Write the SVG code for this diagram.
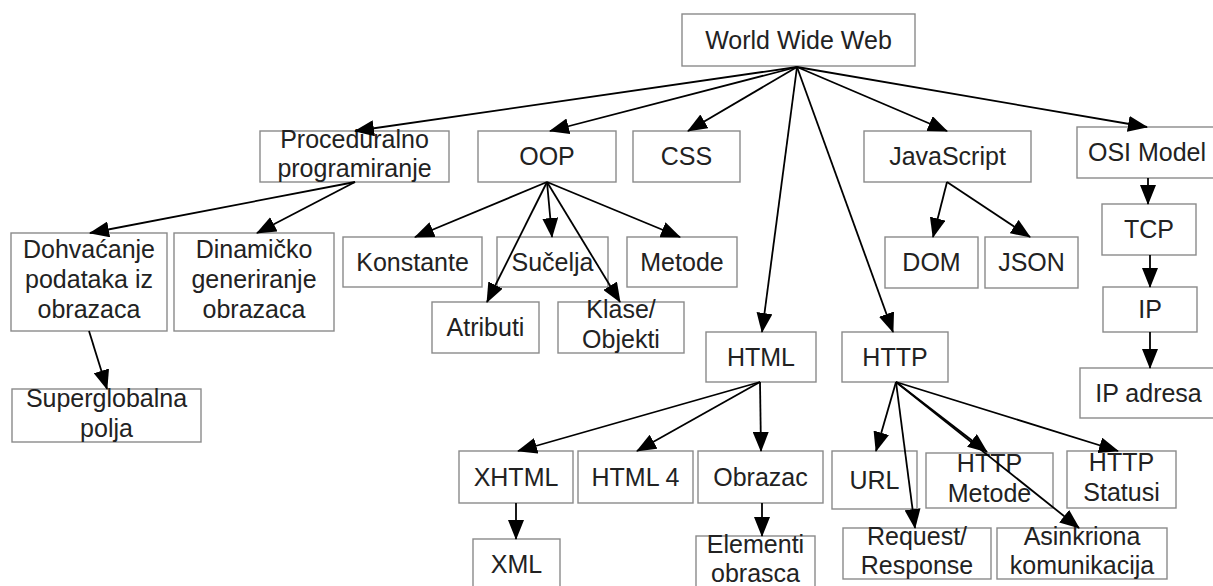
<svg xmlns="http://www.w3.org/2000/svg" width="1213" height="586" viewBox="0 0 1213 586">
<defs>
<style>
.n rect{fill:#fff;stroke:#8a8a8a;stroke-width:1.4}
.n text{font-family:"Liberation Sans",Arial,sans-serif;font-size:25px;fill:#222;text-anchor:middle}
.c line{stroke:#000;stroke-width:1.8;marker-end:url(#ah)}
</style>
<marker id="ah" markerUnits="userSpaceOnUse" viewBox="0 0 20 16" markerWidth="20" markerHeight="16" refX="19" refY="8" orient="auto"><path d="M0,0 L20,8 L0,16 z" fill="#000"/></marker>
</defs>
<rect width="1213" height="586" fill="#fff"/>
<g class="n">
<g id="www"><rect x="682" y="14" width="233" height="52"/><text x="798.5" y="49">World Wide Web</text></g>
<g id="proc"><rect x="260" y="131" width="189" height="51"/><text x="354.5" y="148">Proceduralno<tspan x="354.5" dy="29">programiranje</tspan></text></g>
<g id="oop"><rect x="478" y="131" width="138" height="51"/><text x="547" y="165">OOP</text></g>
<g id="css"><rect x="633" y="131" width="107" height="51"/><text x="686.5" y="165">CSS</text></g>
<g id="js"><rect x="864" y="131" width="167" height="51"/><text x="947.5" y="165">JavaScript</text></g>
<g id="osi"><rect x="1077" y="127" width="140" height="51"/><text x="1147" y="161">OSI Model</text></g>
<g id="dohv"><rect x="11" y="233" width="156" height="98"/><text x="89" y="258">Dohvaćanje<tspan x="89" dy="30">podataka iz</tspan><tspan x="89" dy="30">obrazaca</tspan></text></g>
<g id="dina"><rect x="174" y="233" width="160" height="98"/><text x="254" y="258">Dinamičko<tspan x="254" dy="30">generiranje</tspan><tspan x="254" dy="30">obrazaca</tspan></text></g>
<g id="konst"><rect x="343" y="237" width="139" height="50"/><text x="412.5" y="271">Konstante</text></g>
<g id="sucelja"><rect x="497" y="237" width="111" height="50"/><text x="552.5" y="271">Sučelja</text></g>
<g id="metode"><rect x="627" y="237" width="110" height="50"/><text x="682" y="271">Metode</text></g>
<g id="atrib"><rect x="432" y="302" width="107" height="51"/><text x="485.5" y="336">Atributi</text></g>
<g id="klase"><rect x="558" y="302" width="126" height="51"/><text x="621" y="318">Klase/<tspan x="621" dy="30">Objekti</tspan></text></g>
<g id="dom"><rect x="885" y="237" width="93" height="51"/><text x="931.5" y="271">DOM</text></g>
<g id="json"><rect x="985" y="237" width="93" height="51"/><text x="1031.5" y="271">JSON</text></g>
<g id="tcp"><rect x="1102" y="204" width="94" height="51"/><text x="1149" y="238">TCP</text></g>
<g id="ip"><rect x="1103" y="287" width="94" height="45"/><text x="1150" y="318">IP</text></g>
<g id="ipadr"><rect x="1080" y="368" width="137" height="50"/><text x="1148.5" y="402">IP adresa</text></g>
<g id="html"><rect x="706" y="332" width="110" height="50"/><text x="761" y="366">HTML</text></g>
<g id="http"><rect x="842" y="332" width="106" height="50"/><text x="895" y="366">HTTP</text></g>
<g id="superg"><rect x="12" y="389" width="189" height="53"/><text x="106.5" y="407">Superglobalna<tspan x="106.5" dy="30">polja</tspan></text></g>
<g id="xhtml"><rect x="459" y="451" width="114" height="52"/><text x="516" y="486">XHTML</text></g>
<g id="html4"><rect x="578" y="451" width="115" height="52"/><text x="635.5" y="486">HTML 4</text></g>
<g id="obrazac"><rect x="698" y="451" width="125" height="52"/><text x="760.5" y="486">Obrazac</text></g>
<g id="xml"><rect x="473" y="539" width="87" height="50"/><text x="516.5" y="573">XML</text></g>
<g id="elem"><rect x="696" y="536" width="119" height="51"/><text x="755.5" y="553">Elementi<tspan x="755.5" dy="29">obrasca</tspan></text></g>
<g id="url"><rect x="832" y="451" width="85" height="58"/><text x="874.5" y="489">URL</text></g>
<g id="httpm"><rect x="926" y="453" width="127" height="55"/><text x="989.5" y="472">HTTP<tspan x="989.5" dy="30">Metode</tspan></text></g>
<g id="https"><rect x="1067" y="451" width="109" height="57"/><text x="1121.5" y="471">HTTP<tspan x="1121.5" dy="30">Statusi</tspan></text></g>
<g id="req"><rect x="843" y="528" width="148" height="51"/><text x="917" y="545">Request/<tspan x="917" dy="29">Response</tspan></text></g>
<g id="asink"><rect x="997" y="528" width="170" height="51"/><text x="1082" y="545">Asinkriona<tspan x="1082" dy="29">komunikacija</tspan></text></g>
</g>
<g class="c" id="connectors">
<line x1="797" y1="67" x2="355" y2="131"/>
<line x1="797" y1="67" x2="550" y2="131"/>
<line x1="797" y1="67" x2="688" y2="131"/>
<line x1="797" y1="67" x2="762" y2="332"/>
<line x1="797" y1="67" x2="893" y2="332"/>
<line x1="797" y1="67" x2="947" y2="131"/>
<line x1="797" y1="67" x2="1147" y2="127"/>
<line x1="355" y1="182" x2="90" y2="233"/>
<line x1="355" y1="182" x2="257" y2="233"/>
<line x1="89" y1="331" x2="107" y2="389"/>
<line x1="547" y1="182" x2="415" y2="237"/>
<line x1="547" y1="182" x2="552" y2="237"/>
<line x1="547" y1="182" x2="680" y2="237"/>
<line x1="547" y1="182" x2="487" y2="302"/>
<line x1="547" y1="182" x2="620" y2="302"/>
<line x1="947" y1="182" x2="933" y2="237"/>
<line x1="947" y1="182" x2="1030" y2="237"/>
<line x1="1148" y1="178" x2="1148" y2="204"/>
<line x1="1150" y1="255" x2="1150" y2="287"/>
<line x1="1150" y1="332" x2="1150" y2="368"/>
<line x1="760" y1="382" x2="518" y2="451"/>
<line x1="760" y1="382" x2="637" y2="451"/>
<line x1="760" y1="382" x2="761" y2="451"/>
<line x1="516" y1="503" x2="516" y2="539"/>
<line x1="762" y1="503" x2="762" y2="536"/>
<line x1="896" y1="382" x2="876" y2="451"/>
<line x1="896" y1="382" x2="915" y2="528"/>
<line x1="896" y1="382" x2="987" y2="452"/>
<line x1="896" y1="382" x2="1118" y2="451"/>
<line x1="896" y1="382" x2="1079" y2="528"/>
</g>
</svg>
